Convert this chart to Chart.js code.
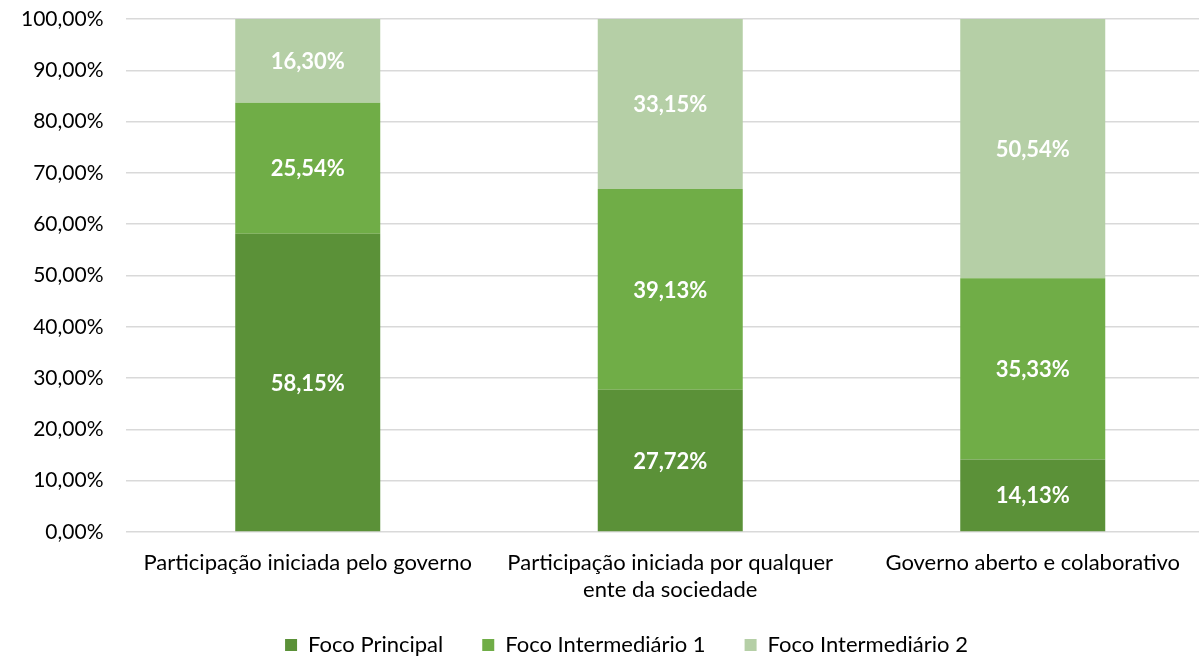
<!DOCTYPE html>
<html><head><meta charset="utf-8">
<script src="https://cdn.jsdelivr.net/npm/chart.js@4/dist/chart.umd.min.js"></script>
<style>
html,body{margin:0;padding:0;background:#fff;overflow:hidden;}
#wrap{position:relative;width:1255px;height:656px;}
</style></head>
<body><div id="wrap"><canvas id="c"></canvas></div>
<script>
const categories = [["Participação iniciada pelo governo"], ["Participação iniciada por qualquer", "ente da sociedade"], ["Governo aberto e colaborativo"]];
const seriesNames = ["Foco Principal", "Foco Intermediário 1", "Foco Intermediário 2"];
const focoPrincipal = [58.15, 27.72, 14.13];
const focoIntermediario1 = [25.54, 39.13, 35.33];
const focoIntermediario2 = [16.30, 33.15, 50.54];
const colors = ["#5B9138", "#70AD47", "#B5CFA6"];
const FONT = "Lato, 'Open Sans', sans-serif";
const fmt = v => v.toFixed(2).replace('.', ',') + '%';

const labelPlugin = {
  id: 'barLabels',
  beforeDraw(chart) {
    // let the two-line category labels draw past the (tightened) axis box
    const x = chart.scales.x;
    x.bottom = x.top + 90;
  },
  afterDatasetsDraw(chart) {
    const ctx = chart.ctx;
    ctx.save();
    ctx.fillStyle = '#fff';
    ctx.font = 'bold 22px ' + FONT;
    ctx.textAlign = 'center';
    ctx.textBaseline = 'middle';
    chart.data.datasets.forEach((ds, i) => {
      chart.getDatasetMeta(i).data.forEach((bar, j) => {
        const p = bar.getProps(['x', 'y', 'base'], true);
        ctx.fillText(fmt(ds.data[j]), p.x, (p.y + p.base) / 2 + 1);
      });
    });
    ctx.restore();
  }
};

new Chart(document.getElementById('c'), {
  type: 'bar',
  data: {
    labels: categories,
    datasets: [
      {label: seriesNames[0], data: focoPrincipal, backgroundColor: colors[0]},
      {label: seriesNames[1], data: focoIntermediario1, backgroundColor: colors[1]},
      {label: seriesNames[2], data: focoIntermediario2, backgroundColor: colors[2]}
    ]
  },
  options: {
    responsive: true,
    maintainAspectRatio: false,
    animation: false,
    datasets: {bar: {barPercentage: 0.4, categoryPercentage: 1}},
    layout: {padding: {top: 0, left: -2, right: 0, bottom: -10}},
    scales: {
      x: {
        stacked: true,
        grid: {display: false, drawTicks: false},
        border: {display: false},
        ticks: {color: '#000', font: {family: FONT, size: 22, lineHeight: 1.23}, maxRotation: 0, padding: 17},
        afterFit: s => { s.height = 63; }
      },
      y: {
        stacked: true,
        min: 0, max: 100,
        grid: {color: '#d9d9d9', lineWidth: 1.5, drawTicks: false},
        border: {display: false},
        ticks: {stepSize: 10, color: '#000', font: {family: FONT, size: 21}, padding: 23,
          callback: v => v.toFixed(2).replace('.', ',') + '%'},
        afterFit: s => { s.paddingTop = 19; s.paddingBottom = 0; }
      },
      yRight: {
        type: 'linear',
        position: 'right',
        display: true,
        grid: {display: false, drawTicks: false},
        border: {display: false},
        ticks: {display: false},
        afterFit: s => { s.width = 41; s.paddingTop = 0; s.paddingBottom = 0; }
      }
    },
    plugins: {
      tooltip: {enabled: false},
      legend: {
        position: 'bottom',
        labels: {color: '#000', font: {family: FONT, size: 22}, boxWidth: 12, boxHeight: 12, padding: 39}
      }
    }
  },
  plugins: [labelPlugin]
});
</script></body></html>
